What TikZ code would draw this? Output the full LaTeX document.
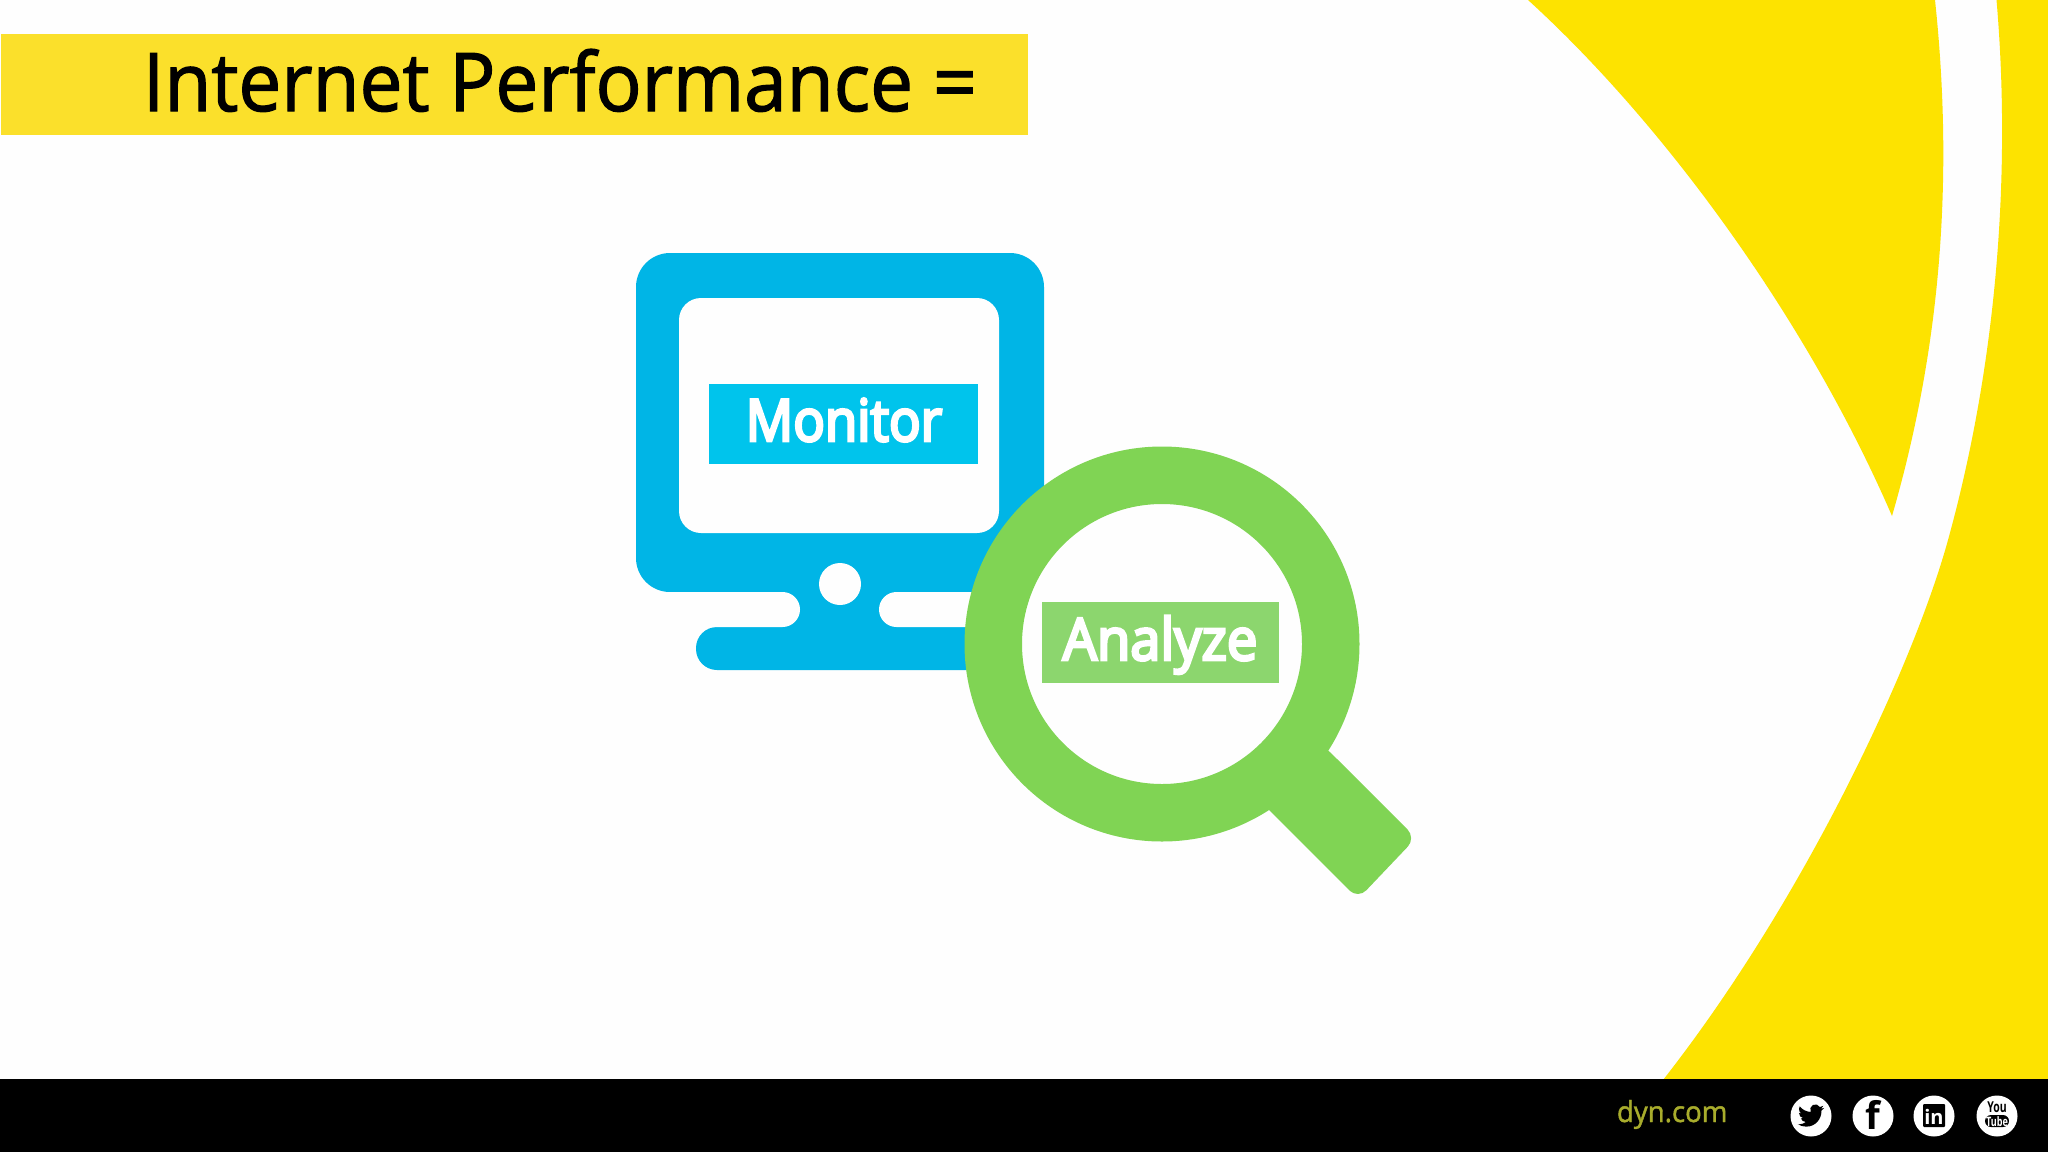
\documentclass[tikz,border=0pt]{standalone}
\usepackage{fontspec}
\setmainfont{Open Sans}
\newfontfamily\titlefont[FakeBold=1.6]{Open Sans}
\newfontfamily\labelfont[FakeBold=5]{Open Sans}
\newfontfamily\dynfont[FakeBold=1.5]{Open Sans}
\definecolor{dynyellow}{HTML}{FDE300}
\definecolor{titleyellow}{HTML}{FBE02B}
\definecolor{paper}{HTML}{FEFEFE}
\definecolor{monblue}{HTML}{00B5E6}
\definecolor{monlabel}{HTML}{00C4EC}
\definecolor{maggreen}{HTML}{80D454}
\definecolor{maglabel}{HTML}{8CD66E}
\definecolor{dynolive}{HTML}{A8AC2C}
\tikzset{
  labelbox/.style={inner sep=0pt,outer sep=0pt,anchor=north west},
  labeltext/.style={inner sep=0pt,outer sep=0pt,anchor=base,text=white},
  icondisc/.style={circle,fill=white,minimum size=41pt,inner sep=0pt,outer sep=0pt},
  icontext/.style={inner sep=0pt,outer sep=0pt,anchor=base}
}
\begin{document}
\begin{tikzpicture}[x=1pt,y=-1pt]
\useasboundingbox (0,0) rectangle (2048,1152);
\fill[paper] (0,0) rectangle (2048,1152);
% yellow swooshes
\fill[dynyellow] (1528,0) .. controls (1660,120) and (1805,315) .. (1892,516)
  .. controls (1943,340) and (1953,170) .. (1935,0) -- cycle;
\fill[dynyellow] (1996.5,0) .. controls (2012,180) and (1995,370) .. (1948,540)
  .. controls (1915,660) and (1808,895) .. (1663,1080)
  -- (2048,1080) -- (2048,0) -- cycle;
% bottom bar
\fill[black] (0,1079) rectangle (2048,1152);
% title
\node[labelbox,fill=titleyellow,minimum width=1027pt,minimum height=101pt] (titlebar) at (1,34) {};
\node[inner sep=0pt,outer sep=0pt,anchor=base west,xscale=0.945] (title) at (143,111) {\fontsize{81}{90}\selectfont\titlefont Internet Performance =};
% monitor
\fill[monblue,rounded corners=34pt] (636,253) rectangle (1044,592);
\fill[monblue,rounded corners=21pt] (696,627) rectangle (1010,670);
\fill[monblue] (780,585) rectangle (900,632);
\fill[paper,rounded corners=17.5pt] (600,592) rectangle (800,627);
\fill[paper,rounded corners=17.5pt] (879,592) rectangle (1040,627);
\fill[paper,rounded corners=22pt] (679,298) rectangle (999,533);
\fill[paper] (840,584) circle[radius=21];
\node[labelbox,fill=monlabel,minimum width=269pt,minimum height=80pt] (monbox) at (709,384) {};
\node[labeltext,xscale=0.905] (monitor) at (844,441) {\fontsize{58}{60}\selectfont\labelfont Monitor};
% magnifier
\fill[maggreen,rounded corners=12pt] (1300,725) -- (1329,751) -- (1416,838) -- (1358,899) -- (1269,810) -- (1240,780) -- cycle;
\fill[maggreen,even odd rule] (1162,644) circle[radius=197.5] (1162,644) circle[radius=140];
\node[labelbox,fill=maglabel,minimum width=237pt,minimum height=81pt] (magbox) at (1042,602) {};
\node[labeltext,xscale=0.935] (analyze) at (1160,660) {\fontsize{58}{60}\selectfont\labelfont Analyze};
% footer
\node[inner sep=0pt,outer sep=0pt,anchor=base west,text=dynolive,xscale=0.95] (dyn) at (1617,1122) {\fontsize{29}{30}\selectfont\dynfont dyn.com};
\node[icondisc] (tw) at (1811,1116) {};
\node[icondisc] (fb) at (1873,1116) {};
\node[icondisc] (li) at (1934,1116) {};
\node[icondisc] (yt) at (1997,1116) {};
% twitter bird
\begin{scope}[shift={(tw.center)},x=1.09pt,y=-1.09pt,shift={(-12,-12)}]
\fill[black] (23.953,4.57) .. controls (23.07,4.96) and (22.12,5.22) .. (21.128,5.345)
  .. controls (22.14,4.74) and (22.92,3.77) .. (23.291,2.622)
  .. controls (22.34,3.177) and (21.286,3.581) .. (20.164,3.806)
  .. controls (18.93,1.48) and (16.06,0.62) .. (13.74,1.85)
  .. controls (11.42,3.08) and (10.55,5.97) .. (11.78,8.288)
  .. controls (7.69,8.095) and (4.067,6.13) .. (1.64,3.162)
  .. controls (1.21,3.9) and (0.974,4.75) .. (0.974,5.637)
  .. controls (0.974,7.347) and (1.844,8.85) .. (3.162,9.733)
  .. controls (2.36,9.71) and (1.6,9.48) .. (0.934,9.117)
  -- (0.934,9.177)
  .. controls (0.934,11.55) and (2.63,13.55) .. (4.88,14.004)
  .. controls (4.17,14.2) and (3.4,14.23) .. (2.668,14.089)
  .. controls (3.3,16.1) and (5.15,17.46) .. (7.272,17.506)
  .. controls (5.6,18.8) and (3.5,19.611) .. (1.17,19.611)
  .. controls (0.78,19.611) and (0.391,19.588) .. (0,19.544)
  .. controls (2.2,20.95) and (4.8,21.753) .. (7.557,21.753)
  .. controls (16.61,21.753) and (21.555,14.257) .. (21.555,7.768)
  .. controls (21.555,7.558) and (21.555,7.348) .. (21.54,7.138)
  .. controls (22.5,6.44) and (23.35,5.57) .. (24,4.59) -- cycle;
\end{scope}
% facebook, linkedin, youtube glyphs
\node[icontext] (fglyph) at (1873,1129) {\fontsize{38}{38}\selectfont\bfseries f};
\fill[black,rounded corners=1pt] (1923,1104) rectangle (1945,1127);
\node[icontext,text=white] (inglyph) at (1934,1124) {\fontsize{20}{20}\selectfont\bfseries in};
\node[icontext,xscale=0.7] (you) at (1997,1112) {\fontsize{15}{15}\selectfont\bfseries You};
\fill[black,rounded corners=6pt] (1985,1115) rectangle (2009,1127);
\node[icontext,xscale=0.7,text=white] (tube) at (1997,1126) {\fontsize{13}{13}\selectfont\bfseries Tube};
\end{tikzpicture}
\end{document}
